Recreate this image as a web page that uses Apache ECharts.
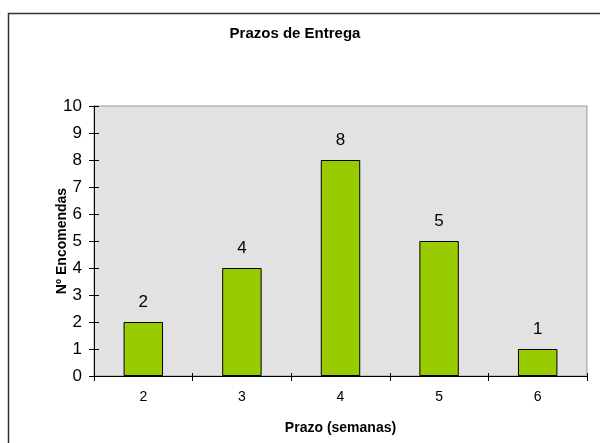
<!DOCTYPE html>
<html>
<head>
<meta charset="utf-8">
<script src="https://cdn.jsdelivr.net/npm/echarts@6/dist/echarts.min.js"></script>
<style>
html, body { margin: 0; padding: 0; background: #fff; }
#chart { width: 600px; height: 443px; }
</style>
</head>
<body>
<div id="chart"></div>
<script>
// dados do grafico
var categorias = ['2', '3', '4', '5', '6'];
var encomendas = [2, 4, 8, 5, 1];
var yTicks = [0, 1, 2, 3, 4, 5, 6, 7, 8, 9, 10];

var fonte = '"Liberation Sans", Arial, sans-serif';
var chart = echarts.init(document.getElementById('chart'));

var option = {
    animation: false,
    title: {
        text: 'Prazos de Entrega',
        left: 290,
        top: 21,
        textAlign: 'center',
        textStyle: { fontFamily: fonte, fontSize: 15, fontWeight: 'bold', color: '#000' }
    },
    // moldura exterior
    graphic: [{
        type: 'rect',
        shape: { x: 8.5, y: 13.5, width: 600, height: 440 },
        style: { fill: 'none', stroke: '#333', lineWidth: 1.5 },
        silent: true
    }],
    grid: {
        left: 94, top: 106, right: 13, bottom: 67,
        show: true,
        backgroundColor: '#e2e2e2',
        borderColor: '#999',
        borderWidth: 1
    },
    xAxis: [{
        type: 'category',
        data: categorias,
        name: 'Prazo (semanas)',
        nameLocation: 'middle',
        nameGap: 45,
        nameMoveOverlap: false,
        nameTextStyle: { fontFamily: fonte, fontSize: 14, fontWeight: 'bold', color: '#000' },
        axisLine: { lineStyle: { color: '#000', width: 1 } },
        axisTick: { show: true, length: 5, lineStyle: { color: '#000' } },
        axisLabel: { fontFamily: fonte, fontSize: 14, color: '#000', margin: 14 }
    }, {
        // tracinhos para dentro
        type: 'category',
        data: categorias,
        position: 'bottom',
        axisLine: { show: false },
        axisTick: { show: true, inside: true, length: 3, lineStyle: { color: '#000' } },
        axisLabel: { show: false }
    }],
    yAxis: [{
        type: 'value',
        min: yTicks[0],
        max: yTicks[yTicks.length - 1],
        interval: 1,
        name: 'Nº Encomendas',
        nameLocation: 'middle',
        nameGap: 25,
        nameMoveOverlap: false,
        nameTextStyle: { fontFamily: fonte, fontSize: 14, fontWeight: 'bold', color: '#000' },
        axisLine: { show: true, lineStyle: { color: '#000', width: 1 } },
        axisTick: { show: true, length: 5, lineStyle: { color: '#000' } },
        axisLabel: { fontFamily: fonte, fontSize: 17, color: '#000', margin: 12 },
        splitLine: { show: false }
    }, {
        type: 'value',
        min: yTicks[0],
        max: yTicks[yTicks.length - 1],
        interval: 1,
        position: 'left',
        axisLine: { show: false },
        axisTick: { show: true, inside: true, length: 5, lineStyle: { color: '#000' } },
        axisLabel: { show: false },
        splitLine: { show: false }
    }],
    series: [{
        type: 'bar',
        data: encomendas,
        barWidth: '40%',
        itemStyle: { color: '#99cc00', borderColor: '#000', borderWidth: 1 },
        label: {
            show: true,
            position: 'top',
            distance: 11,
            fontFamily: fonte,
            fontSize: 17,
            color: '#000'
        }
    }]
};
chart.setOption(option, true);
</script>
</body>
</html>
